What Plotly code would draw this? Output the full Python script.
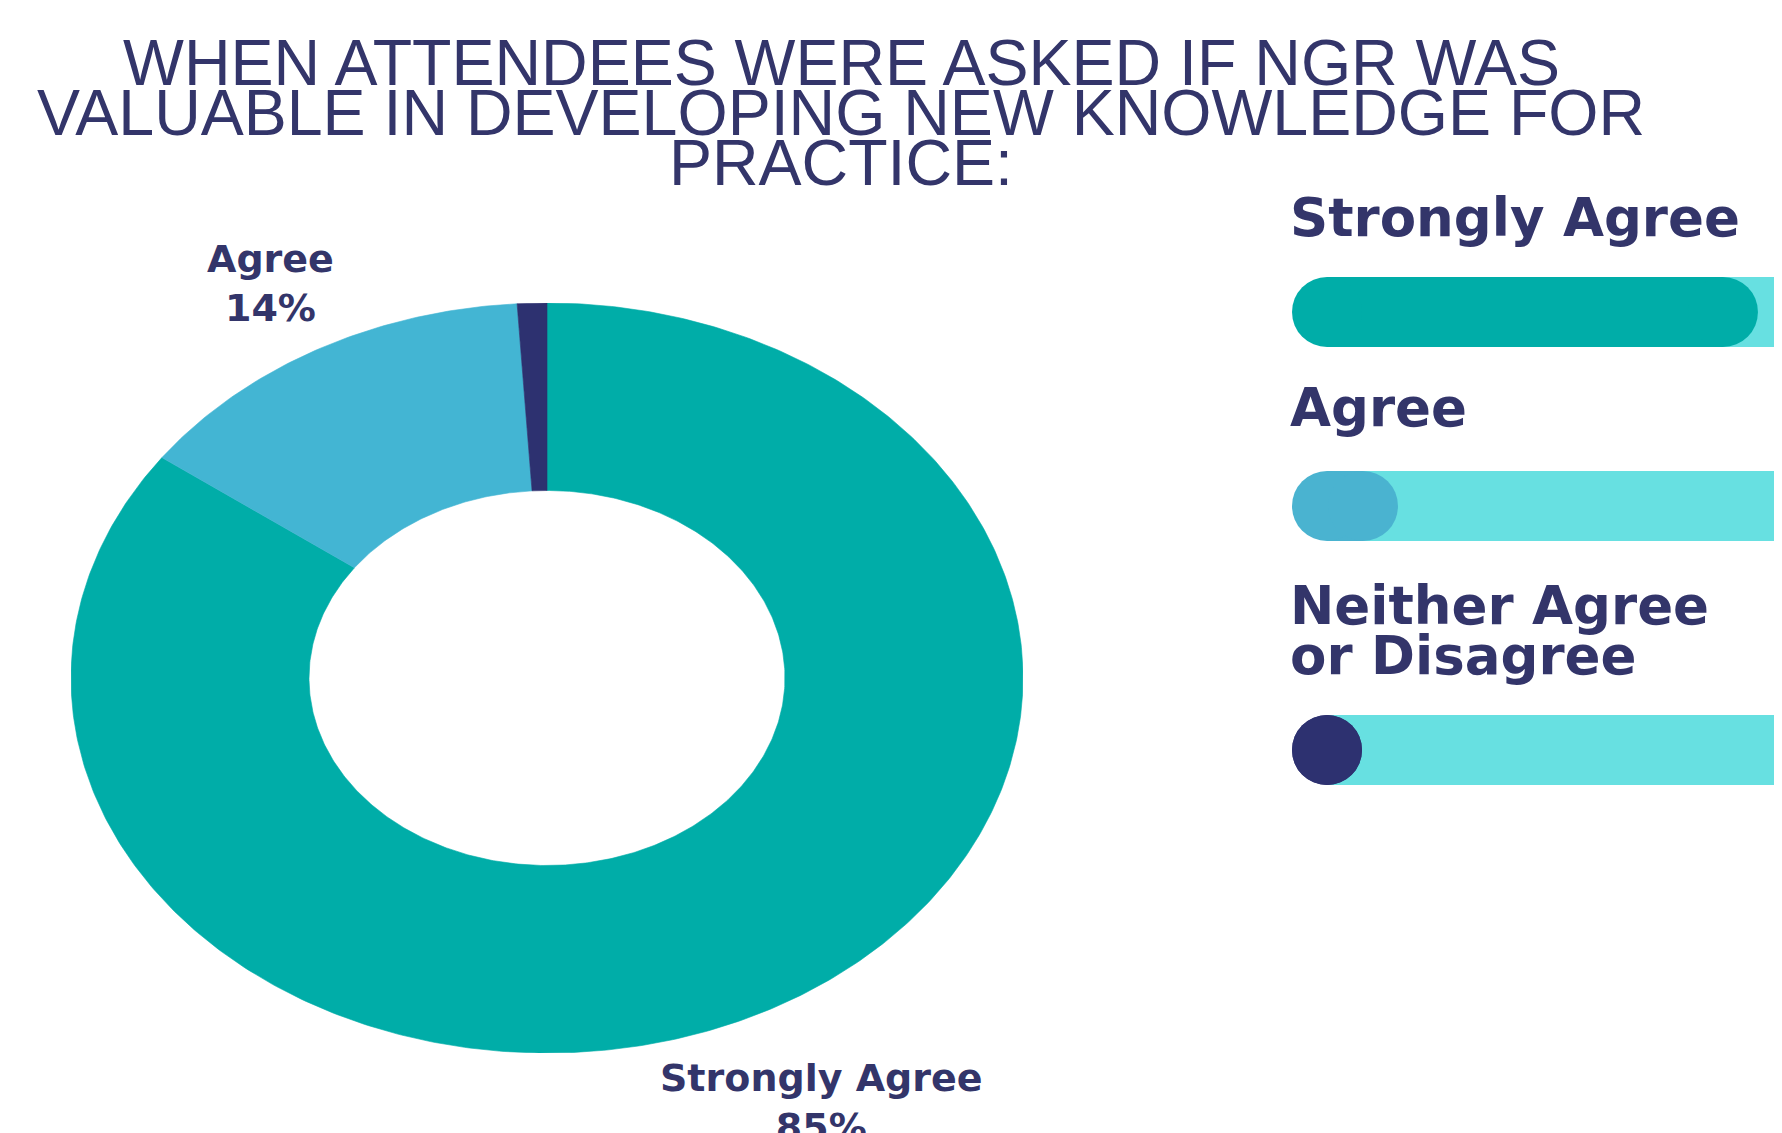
import numpy as np
import plotly.graph_objects as go

# ---------------- data ----------------
categories = ["Strongly Agree", "Agree", "Neither Agree or Disagree"]
percent = [85, 14, 1]
labelled_slices = ["Agree", "Strongly Agree"]          # slices that carry an outside label
title_lines = [
    "WHEN ATTENDEES WERE ASKED IF NGR WAS",
    "VALUABLE IN DEVELOPING NEW KNOWLEDGE FOR",
    "PRACTICE:",
]
legend_wrap = {"Neither Agree or Disagree": ["Neither Agree", "or Disagree"]}

# ---------------- style ----------------
slice_colors = ["#00ADA8", "#43B5D3", "#2D3170"]
legend_fill_colors = ["#00ADA8", "#4AB3D0", "#2D3170"]
track_color = "#67E0E1"
text_color = "#33356A"

WIN_W, WIN_H = 1782, 1133
OFF = 8                      # default page-body margin of the html page
W, H = WIN_W - OFF, WIN_H - OFF


def px_x(p):
    return (p - OFF) / W


def px_y(p):
    return 1 - (p - OFF) / H


fig = go.Figure()

# ---------------- donut (elliptical, drawn through x/y axes) ----------------
cx, cy, rx, ry, hole = 547, 678, 476, 375, 0.5
total = float(sum(percent))
cum = np.concatenate([[0.0], np.cumsum(percent)]) / total
for i, cat in enumerate(categories):
    n = max(int(600 * (cum[i + 1] - cum[i])), 4)
    t = np.linspace(cum[i], cum[i + 1], n)
    xo, yo = np.sin(2 * np.pi * t), np.cos(2 * np.pi * t)
    xs = np.concatenate([xo, hole * xo[::-1], xo[:1]])
    ys = np.concatenate([yo, hole * yo[::-1], yo[:1]])
    fig.add_trace(go.Scatter(
        x=xs, y=ys, mode="lines", fill="toself",
        fillcolor=slice_colors[i], line=dict(color=slice_colors[i], width=0.6),
        name=cat, hoverinfo="name", showlegend=False, xaxis="x", yaxis="y"))

# outside slice labels
label_pos = {"Agree": (270, 284), "Strongly Agree": (821, 1102)}
for cat in labelled_slices:
    v = percent[categories.index(cat)]
    px, py = label_pos[cat]
    fig.add_annotation(
        x=px_x(px), y=px_y(py), xref="paper", yref="paper",
        text=f"{cat}<br>{v}%", showarrow=False, xanchor="center", yanchor="middle",
        font=dict(family="DejaVu Sans", size=38, color=text_color, weight="bold"))

# ---------------- title ----------------
title_y = [63, 113, 163]
for line, yy in zip(title_lines, title_y):
    fig.add_annotation(
        x=px_x(841), y=px_y(yy), xref="paper", yref="paper", text=line,
        showarrow=False, xanchor="center", yanchor="middle",
        font=dict(family="Liberation Sans", size=64.5, color=text_color))

# ---------------- progress-bar legend ----------------
bar_left, thick = 1292, 70
cap = thick / 2
zero_px = bar_left + cap
unit_px = 5.07               # pixels per percentage point on the bar scale
cap_units = cap / unit_px    # round end cap expressed in bar units
bar_centers = [312, 506, 750]
label_lines_y = [[217], [407], [605, 655]]

for i, cat in enumerate(categories):
    ax = i + 2
    xa, ya = f"x{ax}", f"y{ax}"
    v = percent[i]
    end = max(v - cap_units, 0.0)          # centre of the rounded right end
    fig.add_trace(go.Bar(x=[100], y=[0], orientation="h", width=1,
                         marker=dict(color=track_color, line=dict(width=0)),
                         hoverinfo="skip", showlegend=False, xaxis=xa, yaxis=ya))
    fig.add_trace(go.Bar(x=[end], y=[0], orientation="h", width=1,
                         marker=dict(color=legend_fill_colors[i], line=dict(width=0)),
                         name=cat, customdata=[v], hovertemplate="%{customdata}%<extra></extra>",
                         showlegend=False, xaxis=xa, yaxis=ya))
    fig.add_trace(go.Scatter(x=[0, end], y=[0, 0], mode="markers", cliponaxis=False,
                             marker=dict(size=thick, color=legend_fill_colors[i], line=dict(width=0)),
                             hoverinfo="skip", showlegend=False, xaxis=xa, yaxis=ya))
    c = bar_centers[i]
    fig.layout[f"xaxis{ax}"] = dict(
        domain=[px_x(bar_left), 1.0],
        range=[(bar_left - zero_px) / unit_px, (OFF + W - zero_px) / unit_px],
        visible=False, fixedrange=True, anchor=ya)
    fig.layout[f"yaxis{ax}"] = dict(
        domain=[px_y(c + cap), px_y(c - cap)], range=[-0.5, 0.5],
        visible=False, fixedrange=True, anchor=xa)
    lines = legend_wrap.get(cat, [cat])
    for line, yy in zip(lines, label_lines_y[i]):
        fig.add_annotation(
            x=px_x(bar_left - 4), y=px_y(yy), xref="paper", yref="paper", text=line,
            showarrow=False, xanchor="left", yanchor="middle",
            font=dict(family="DejaVu Sans", size=53, color=text_color, weight="bold"))

fig.update_layout(
    width=W, height=H, margin=dict(l=0, r=0, t=0, b=0),
    paper_bgcolor="white", plot_bgcolor="white",
    showlegend=False, barmode="overlay",
    xaxis=dict(domain=[px_x(cx - rx), px_x(cx + rx)], range=[-1, 1],
               visible=False, fixedrange=True),
    yaxis=dict(domain=[px_y(cy + ry), px_y(cy - ry)], range=[-1, 1],
               visible=False, fixedrange=True),
)

fig.write_html("out.html")
